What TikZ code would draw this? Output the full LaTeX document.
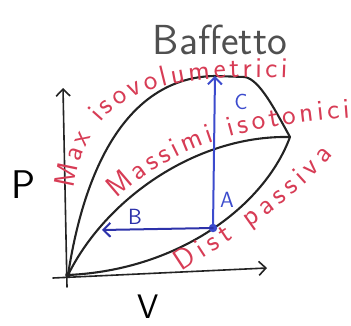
\documentclass[tikz,border=0pt]{standalone}
\usetikzlibrary{arrows.meta,decorations.text}
\definecolor{penblk}{RGB}{35,35,35}
\definecolor{penblue}{RGB}{60,75,205}
\definecolor{pennavy}{RGB}{45,50,170}
\definecolor{penred}{RGB}{215,60,85}
\definecolor{pengray}{RGB}{80,80,80}
\tikzset{curve/.style={draw=penblk,line width=2.1pt},
 axis/.style={draw=penblk,line width=1.6pt,-{Straight Barb[length=7pt,width=14pt,line width=1.6pt]}},
 flow/.style={line width=2pt,-{Straight Barb[length=7pt,width=14pt,line width=2pt]}},
 lbl/.style={font=\sffamily\fontsize{22}{22}\selectfont},
 redtext/.style={decorate,decoration={text along path,text align={fit to path},
   text={|\sffamily\fontsize{29}{29}\selectfont\color{penred}|#1}}},
 every picture/.style={line join=round,line cap=round}}

\begin{document}
\begin{tikzpicture}[x=1pt,y=1pt]
\useasboundingbox (0,0) rectangle (351,325);
% axes
\coordinate (O) at (68,50);
\coordinate (R) at (290,188);
\coordinate (T) at (215,249);
\coordinate (ybot) at (67,38);
\coordinate (ytop) at (63,237);
\coordinate (xbot) at (53,47);
\coordinate (xtop) at (267,57);
\draw[axis] (ybot) -- (ytop);
\draw[axis] (xbot) -- (xtop);
\node[lbl,font=\sffamily\fontsize{40}{40}\selectfont] (p) at (23,140) {P};
\node[lbl,font=\sffamily\fontsize{34}{34}\selectfont,inner sep=0pt] (v) at (148,18) {V};
% the three curves
\draw[curve] (O) .. controls (88,180) and (140,248) .. (T) -- (245,248)
  .. controls (260,245) and (275,215) .. (R);
\draw[curve] (O) .. controls (105,125) and (195,190) .. (R);
\draw[curve] (O) .. controls (180,55) and (265,120) .. (R);
\fill[penblk] (O) circle (2.8pt);
% point A and the two moves
\node[circle,fill=penblue,inner sep=3pt] (a) at (213,97) {};
\coordinate (bend) at (102,95);
\draw[flow,draw=penblue] (a.center) -- (T);
\draw[flow,draw=pennavy] (a.center) -- (bend);
\node[lbl,text=penblue] (la) at (227,125) {A};
\node[lbl,text=pennavy] (lb) at (135,108) {B};
\node[lbl,text=penblue] (lc) at (241,223) {C};
% red notes
\path[redtext={Max isovolumetrici}] (74,136) .. controls (86,215) and (130,254) .. (287,247);
\path[redtext={Massimi isotonici}] (117,126) .. controls (170,175) and (230,198) .. (350,207);
\path[redtext={Dist passiva}] (182,53) .. controls (230,85) and (290,120) .. (333,170);
\node[font=\sffamily\fontsize{42}{42}\selectfont,text=pengray] (title) at (220,285) {Baffetto};
\end{tikzpicture}
\end{document}
